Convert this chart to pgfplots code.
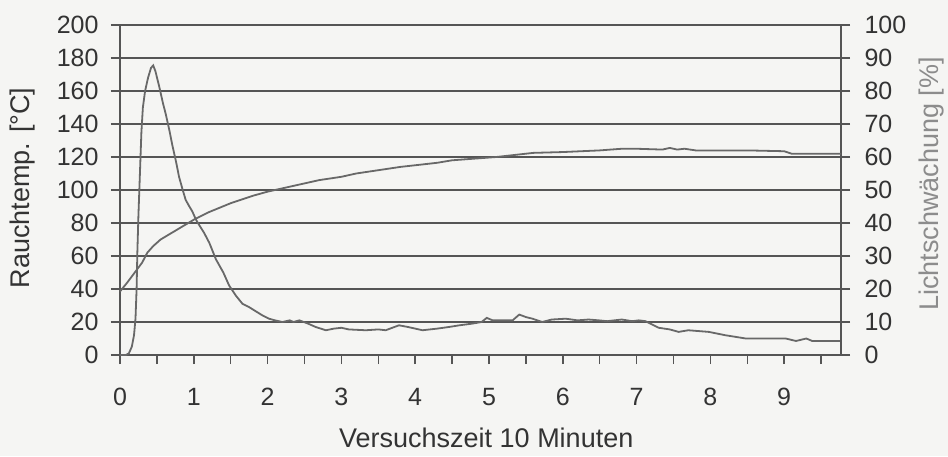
\documentclass[border=0pt]{standalone}
\usepackage{fontspec}
\setmainfont{Liberation Sans}
\usepackage{pgfplots}
\pgfplotsset{compat=1.18}
\definecolor{txt}{HTML}{333333}
\definecolor{lbl}{HTML}{8C8C8C}
\definecolor{gridc}{HTML}{555555}
\definecolor{crv}{HTML}{686868}
\definecolor{bg}{HTML}{F5F5F3}
\pgfplotsset{
  common/.style={
    at={(120pt,101pt)}, anchor=south west,
    width=721pt, height=330pt, scale only axis,
    xmin=0, xmax=9.77, ymin=0,
    tick align=outside,
    major tick length=9pt, minor tick length=9pt,
    axis line style={-, gridc, line width=1.5pt},
    tick style={gridc, line width=1.5pt},
    tick label style={font=\fontsize{25}{30}\selectfont, text=txt},
    label style={font=\fontsize{27}{32}\selectfont},
    /pgf/number format/assume math mode=true,
    clip=false,
  }
}
\begin{document}
\begin{tikzpicture}
\fill[bg] (0,0) rectangle (948pt,456pt);
\useasboundingbox (0,0) rectangle (948pt,456pt);
\begin{axis}[common,
  ymax=200, ytick={0,20,...,200},
  axis y line*=left, axis x line*=bottom,
  xtick pos=bottom, ytick pos=left,
  xtick={0,1,...,9}, minor xtick={0.5,1.5,...,9.5},
  ymajorgrids, grid style={gridc, line width=1.5pt},
  yticklabel style={xshift=-9pt},
  xticklabel style={yshift=-21pt},
  xlabel={Versuchszeit 10 Minuten},
  xlabel style={at={(axis description cs:0.508,-0.279)}, anchor=base, text=txt},
  ylabel={Rauchtemp. [°C]},
  ylabel style={at={(axis description cs:-0.1345,0.506)}, anchor=center, text=txt},
]
\addplot[crv, line width=1.8pt] coordinates {
(0,0) (0.08,0) (0.12,1) (0.16,5) (0.19,12) (0.21,22) (0.225,40) (0.235,62)
(0.25,85) (0.27,110) (0.29,135) (0.31,150) (0.34,160) (0.38,168) (0.42,174)
(0.45,175.5) (0.48,172) (0.53,163) (0.58,153) (0.62,146) (0.67,136) (0.71,127)
(0.76,117) (0.8,108) (0.85,100) (0.89,94) (0.94,90) (0.98,87) (1.03,82)
(1.07,79) (1.14,74) (1.21,68) (1.3,58) (1.4,50) (1.48,42) (1.57,36) (1.66,31)
(1.75,29) (1.84,26.5) (1.93,24) (2.02,22) (2.1,21) (2.2,20) (2.3,21) (2.35,20)
(2.43,21) (2.55,19) (2.65,17) (2.79,15) (2.9,16) (3.0,16.5) (3.1,15.5)
(3.33,15) (3.5,15.5) (3.6,15) (3.78,18) (3.9,17) (4.1,15) (4.3,16) (4.46,17)
(4.6,18) (4.77,19) (4.9,20) (4.97,22.5) (5.05,21) (5.14,21) (5.32,21)
(5.41,24.5) (5.5,23) (5.59,22) (5.72,20) (5.85,21.5) (6.04,22) (6.2,21)
(6.35,21.5) (6.49,21) (6.6,20.5) (6.8,21.5) (6.94,20.5) (7.03,21) (7.12,20.5)
(7.3,16.5) (7.45,15.5) (7.57,14) (7.7,15) (7.98,14) (8.2,12) (8.48,10)
(9.02,10) (9.16,8.5) (9.3,10) (9.38,8.5) (9.77,8.5)
};
\end{axis}
\begin{axis}[common,
  ymax=100, ytick={0,10,...,100},
  axis y line*=right, axis x line=none,
  ytick pos=right,
  yticklabel style={xshift=11pt},
  ylabel={Lichtschwächung [\%]},
  ylabel style={at={(axis description cs:1.126,0.518)}, anchor=center, text=lbl},
]
\addplot[crv, line width=1.8pt] coordinates {
(0,19.25) (0.1,22) (0.2,25) (0.3,28) (0.37,31) (0.45,33) (0.55,35) (0.7,37)
(0.85,39) (1.0,41) (1.2,43.25) (1.5,46) (1.8,48.25) (2.0,49.5) (2.4,51.5)
(2.7,53) (3.0,54) (3.2,55) (3.5,56) (3.8,57) (4.0,57.5) (4.3,58.25) (4.5,59)
(4.8,59.5) (5.1,60) (5.4,60.75) (5.6,61.25) (6.0,61.5) (6.5,62) (6.8,62.5)
(7.0,62.5) (7.35,62.25) (7.45,62.75) (7.55,62.25) (7.65,62.5) (7.8,62)
(8.5,62) (9.0,61.75) (9.1,61) (9.77,61)
};
\end{axis}
\end{tikzpicture}
\end{document}
